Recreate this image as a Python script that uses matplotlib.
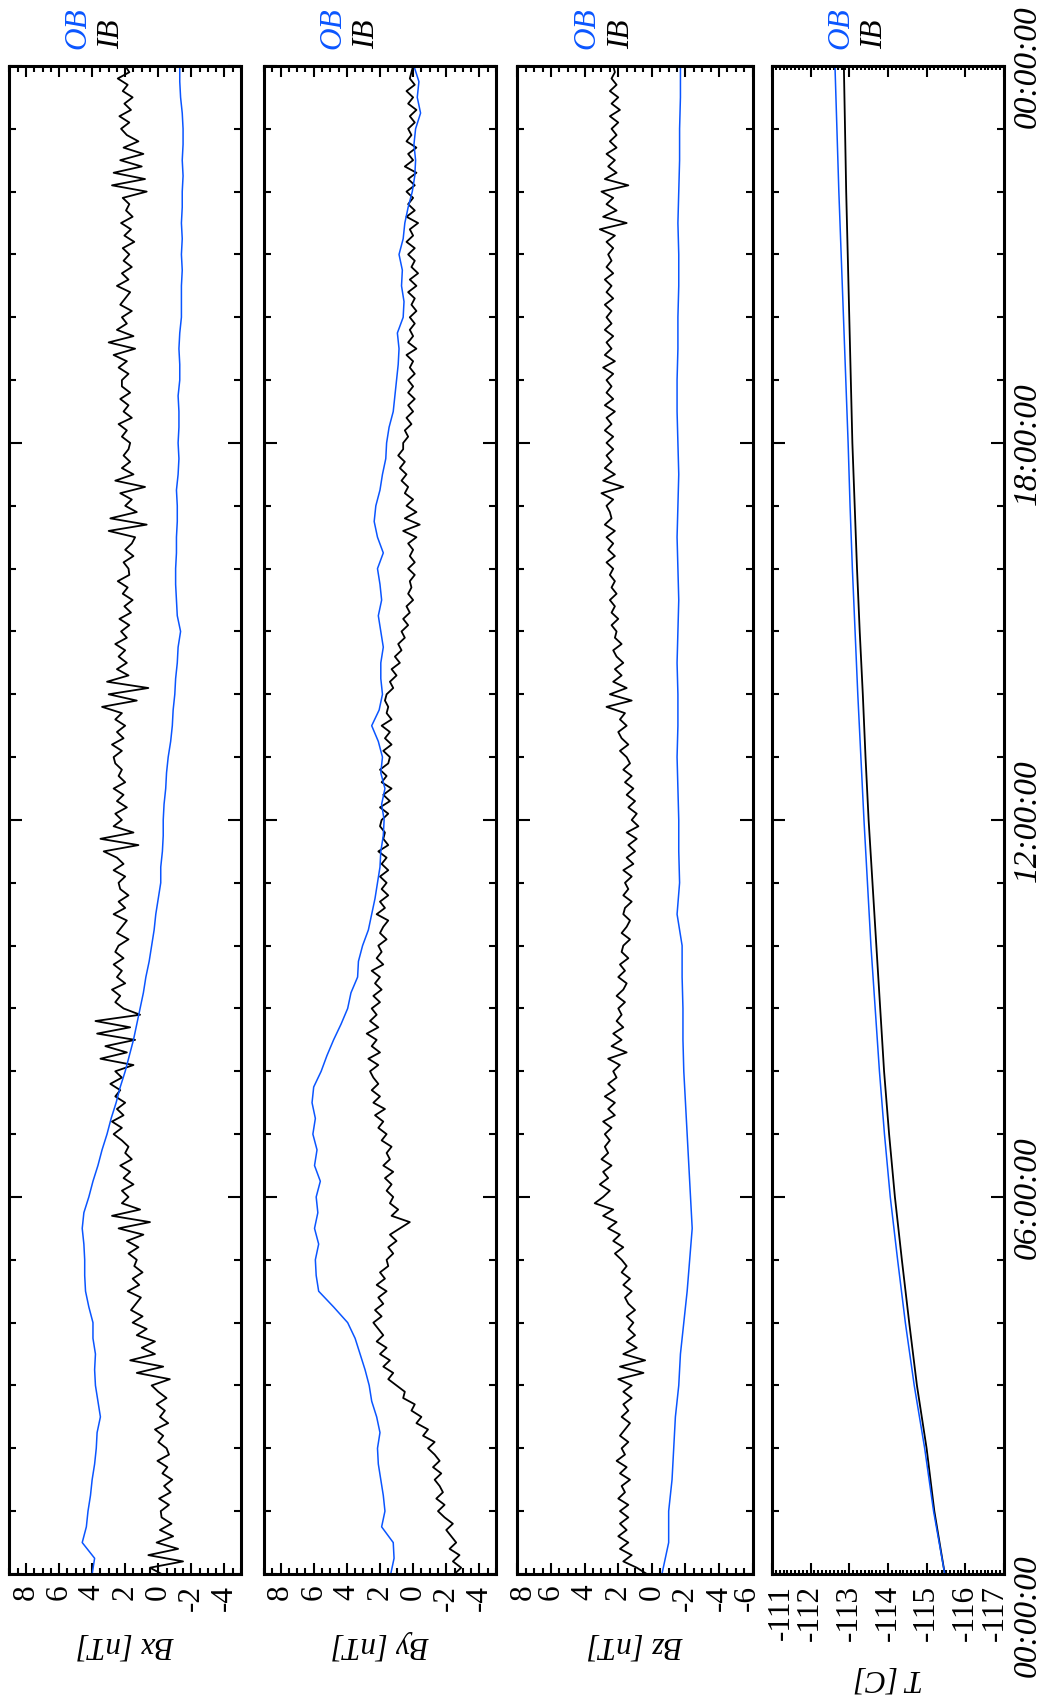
import matplotlib.pyplot as plt
from matplotlib.ticker import MultipleLocator
from matplotlib.transforms import ScaledTranslation
import numpy as np

plt.rcParams['font.family'] = ['Liberation Serif', 'DejaVu Serif']

# ---- data (hours since 00:00:00) ----
# IB (black), sampled every 0.1 h, one row per hour
ib_bx = [
    -0.2, 0.5, -1.5, 0.6, -1.2, 0.1, -0.9, -0.1, -0.8, -0.2,
    -0.15, -0.65, -0.05, -0.75, -0.35, -0.85, -0.25, -0.55, 0.05, -0.65,
    -0.5, 0.0, -0.3, 0.2, -0.6, -0.1, -0.4, 0.1, -0.5, 0.0,
    0.4, -0.7, 1.3, -0.3, 1.7, 0.2, 1.0, 0.2, 1.3, 0.7,
    1.55, 0.95, 1.65, 1.35, 1.05, 1.85, 1.15, 1.55, 0.95, 1.45,
    1.3, 1.8, 1.2, 1.9, 0.9, 2.4, 0.5, 2.8, 1.1, 2.2,
    1.8, 2.2, 1.5, 2.1, 1.7, 2.3, 1.6, 2.0, 1.8, 2.2,
    2.7, 2.2, 2.8, 2.1, 2.5, 2.0, 2.6, 2.3, 2.9, 2.2,
    2.6, 1.5, 3.5, 1.9, 3.2, 1.4, 3.7, 1.7, 3.8, 1.1,
    2.1, 2.6, 2.3, 2.8, 2.0, 2.5, 2.2, 2.7, 2.1, 2.6,
    2.4, 1.8, 2.5, 2.2, 1.9, 2.7, 2.0, 2.4, 1.8, 2.3,
    2.4, 2.0, 2.7, 2.1, 2.5, 3.3, 1.2, 3.5, 1.5, 2.7,
    2.2, 2.6, 1.9, 2.5, 2.1, 2.7, 2.0, 2.4, 2.2, 2.6,
    2.7, 2.2, 2.8, 2.1, 2.5, 2.0, 2.6, 2.2, 3.4, 1.3,
    3.0, 0.6, 3.1, 1.8, 2.5, 1.9, 2.4, 2.0, 2.6, 1.9,
    2.25, 1.75, 2.35, 1.65, 2.05, 1.55, 2.15, 1.85, 2.45, 1.75,
    1.8, 2.1, 1.5, 2.0, 1.6, 1.4, 3.0, 0.7, 2.9, 1.3,
    2.0, 1.6, 2.3, 0.8, 2.6, 1.5, 2.2, 1.7, 2.1, 1.8,
    1.7, 2.2, 1.9, 2.4, 1.6, 2.1, 1.8, 2.3, 1.7, 2.2,
    2.2, 1.8, 2.4, 1.9, 2.7, 1.4, 3.0, 1.5, 2.5, 1.9,
    2.2, 1.6, 2.3, 2.0, 1.7, 2.5, 1.8, 2.2, 1.6, 2.1,
    1.75, 2.15, 1.45, 2.05, 1.65, 2.25, 1.55, 1.95, 1.75, 2.15,
    0.7, 2.8, 0.8, 2.7, 1.0, 2.3, 0.9, 2.1, 1.2, 1.9,
    2.25, 1.75, 2.35, 1.65, 2.05, 1.55, 2.15, 1.85, 2.45, 1.75,
    2.0]

ib_by = [
    -2.5, -2.9, -2.4, -2.8, -2.2, -2.6, -2.3, -2.0, -2.4, -1.9,
    -1.5, -1.9, -1.4, -1.8, -1.6, -1.3, -1.7, -1.2, -1.6, -1.3,
    -0.9, -1.3, -0.6, -0.9, -0.2, -0.5, 0.1, -0.1, 0.6, 0.5,
    1.0, 1.5, 1.2, 1.8, 1.4, 2.0, 1.6, 2.2, 1.8, 2.1,
    2.4, 1.9, 2.3, 1.8, 2.1, 1.6, 2.2, 1.7, 2.0, 1.5,
    1.6, 1.2, 1.5, 1.0, 1.4, 0.8, 0.2, 1.3, 0.9, 1.4,
    1.2, 1.6, 1.3, 1.7, 1.2, 1.8, 1.4, 1.6, 1.3, 1.9,
    1.6, 2.1, 1.8, 2.3, 1.7, 2.4, 2.0, 2.5, 2.1, 2.4,
    2.6, 2.1, 2.7, 2.0, 2.5, 2.2, 2.8, 2.1, 2.6, 2.2,
    2.5, 2.0, 2.4, 1.9, 2.3, 2.0, 2.5, 1.8, 2.2, 1.9,
    2.1, 1.6, 2.0, 1.8, 1.5, 2.2, 1.7, 2.0, 1.5, 1.9,
    1.6, 2.0, 1.5, 1.9, 1.6, 2.1, 1.5, 1.8, 1.7, 2.0,
    1.9, 1.5, 2.0, 1.4, 1.8, 1.3, 1.9, 1.6, 2.0, 1.5,
    1.4, 1.8, 1.3, 1.7, 1.4, 1.9, 1.3, 1.6, 1.5, 1.7,
    1.6, 1.2, 1.4, 1.0, 1.3, 0.8, 1.1, 0.7, 0.9, 0.5,
    0.7, 0.3, 0.6, 0.2, 0.4, 0.0, 0.3, 0.1, 0.2, -0.1,
    0.3, -0.1, 0.2, 0.0, 0.3, -0.2, 0.6, -0.4, 0.5, -0.2,
    0.4, 0.0, 0.5, 0.3, 0.7, 0.4, 0.8, 0.5, 0.9, 0.6,
    0.6, 0.3, 0.5, 0.1, 0.4, 0.0, 0.3, -0.1, 0.3, 0.0,
    0.3, -0.1, 0.2, 0.0, 0.4, -0.2, 0.3, 0.0, 0.2, -0.1,
    0.2, -0.2, 0.1, -0.1, 0.3, -0.2, 0.2, -0.3, 0.1, -0.1,
    0.3, -0.1, 0.4, 0.0, 0.2, -0.3, 0.4, -0.1, 0.3, 0.0,
    0.4, -0.1, 0.3, -0.2, 0.5, 0.0, 0.3, -0.2, 0.4, 0.1,
    0.3, -0.1, 0.2, -0.2, 0.3, 0.0, 0.4, -0.1, 0.2, 0.1,
    0.0]

ib_bz = [
    0.3, 0.9, 1.7, 1.2, 1.9, 1.4, 2.0, 1.5, 1.9, 1.4,
    1.9, 1.4, 2.0, 1.6, 1.8, 1.3, 1.9, 1.5, 2.1, 1.6,
    1.8, 1.4, 1.9, 1.6, 1.3, 1.8, 1.4, 1.7, 1.2, 1.7,
    1.2, 2.0, 0.5, 1.9, 0.4, 1.7, 0.9, 1.5, 1.0, 1.4,
    1.1, 1.5, 1.0, 1.4, 1.6, 1.2, 1.7, 1.3, 1.8, 1.5,
    1.8, 2.2, 1.7, 2.3, 1.9, 2.6, 2.1, 2.9, 2.3, 3.4,
    2.9, 2.5, 3.1, 2.6, 2.9, 2.4, 3.0, 2.6, 2.8, 2.5,
    2.8, 2.4, 2.9, 2.2, 2.6, 2.2, 2.8, 2.2, 2.6, 2.1,
    2.3, 1.9, 2.6, 1.5, 2.4, 1.8, 2.3, 1.7, 2.1, 1.8,
    2.0, 1.6, 2.1, 1.7, 1.5, 2.0, 1.6, 1.9, 1.4, 1.8,
    1.7, 1.3, 1.8, 1.5, 1.3, 1.7, 1.6, 1.2, 1.7, 1.4,
    1.6, 1.2, 1.7, 1.1, 1.5, 1.0, 1.4, 0.9, 1.5, 0.8,
    1.2, 0.9, 1.4, 1.0, 1.5, 1.1, 1.6, 1.2, 1.7, 1.3,
    1.5, 1.9, 1.4, 1.8, 2.0, 1.5, 1.9, 1.6, 2.7, 1.2,
    2.5, 1.5, 2.3, 1.8, 2.2, 1.7, 2.1, 2.3, 1.8, 2.2,
    2.1, 2.4, 2.0, 2.4, 2.2, 2.5, 2.1, 2.4, 2.2, 2.5,
    2.3, 2.7, 2.2, 2.6, 2.3, 2.7, 2.2, 2.8, 2.4, 2.5,
    2.7, 2.3, 3.0, 1.7, 2.9, 2.2, 2.8, 2.4, 2.7, 2.3,
    2.7, 2.3, 2.8, 2.4, 2.7, 2.2, 2.8, 2.3, 2.7, 2.4,
    2.7, 2.3, 2.9, 2.2, 2.8, 2.4, 2.7, 2.3, 2.8, 2.4,
    2.7, 2.4, 2.8, 2.3, 2.7, 2.4, 2.8, 2.3, 2.7, 2.4,
    2.6, 2.3, 2.7, 2.2, 3.1, 1.5, 2.9, 2.1, 2.7, 2.3,
    3.0, 1.4, 2.8, 2.1, 2.6, 2.2, 2.7, 2.1, 2.5, 2.1,
    2.4, 2.0, 2.5, 1.9, 2.4, 2.0, 2.5, 2.1, 2.4, 2.2,
    2.3]

# OB (blue), sampled every 0.25 h, one row per 2 hours
ob_bx = [
    4.0, 3.85, 4.6, 4.35, 4.25, 4.1, 4.0, 3.85,
    3.75, 3.7, 3.5, 3.65, 3.8, 3.85, 3.8, 3.95,
    3.95, 4.2, 4.4, 4.45, 4.45, 4.5, 4.6, 4.5,
    4.2, 3.95, 3.65, 3.4, 3.1, 2.85, 2.55, 2.3,
    2.0, 1.75, 1.5, 1.3, 1.1, 0.9, 0.75, 0.55,
    0.4, 0.25, 0.15, 0.0, -0.15, -0.15, -0.25, -0.3,
    -0.3, -0.35, -0.45, -0.5, -0.6, -0.75, -0.85, -0.9,
    -1.0, -1.05, -1.15, -1.2, -1.35, -1.15, -1.1, -1.05,
    -1.05, -1.1, -1.1, -1.15, -1.15, -1.1, -1.2, -1.25,
    -1.2, -1.25, -1.25, -1.2, -1.3, -1.3, -1.25, -1.3,
    -1.4, -1.4, -1.4, -1.45, -1.4, -1.45, -1.4, -1.45,
    -1.45, -1.5, -1.45, -1.5, -1.5, -1.45, -1.35, -1.3,
    -1.3]

ob_by = [
    1.35, 1.15, 1.2, 1.9, 1.7, 1.8, 1.95, 2.1,
    2.15, 2.0, 2.2, 2.5, 2.65, 2.9, 3.2, 3.5,
    3.95, 4.8, 5.7, 5.85, 5.9, 5.7, 5.95, 5.75,
    5.85, 5.6, 5.95, 5.8, 6.05, 5.9, 6.1, 6.0,
    5.55, 5.2, 4.8, 4.35, 3.95, 3.75, 3.35, 3.3,
    3.05, 2.7, 2.5, 2.3, 2.15, 2.0, 1.95, 1.8,
    1.75, 1.9, 1.7, 1.95, 1.85, 2.1, 2.5, 2.05,
    1.85, 1.95, 1.95, 1.8, 1.95, 2.1, 1.9, 2.0,
    2.15, 1.8, 2.15, 2.35, 2.25, 2.0, 1.85, 1.65,
    1.6, 1.45, 1.2, 1.1, 1.0, 0.9, 0.85, 0.95,
    0.6, 0.55, 0.7, 0.65, 0.85, 0.6, 0.5, 0.3,
    0.05, -0.1, -0.15, -0.05, -0.15, -0.45, -0.25, -0.35,
    -0.05]

# OB Bz, every 0.5 h
ob_bz = [
    -0.6, -1.0, -1.0, -1.2, -1.3, -1.4, -1.6, -1.7,
    -1.9, -2.1, -2.25, -2.4, -2.3, -2.2, -2.1, -2.0,
    -1.9, -1.85, -1.85, -1.8, -1.8, -1.5, -1.65, -1.6,
    -1.6, -1.55, -1.5, -1.55, -1.55, -1.5, -1.55, -1.6,
    -1.55, -1.5, -1.55, -1.6, -1.55, -1.5, -1.5, -1.55,
    -1.55, -1.6, -1.6, -1.55, -1.6, -1.65, -1.65, -1.7,
    -1.7]

# Temperature [C], hourly
temp_ib = [-115.47, -115.2, -115.0, -114.75, -114.55, -114.36, -114.18,
           -114.03, -113.9, -113.8, -113.7, -113.6, -113.5, -113.42,
           -113.35, -113.27, -113.2, -113.14, -113.08, -113.04, -113.0,
           -112.96, -112.92, -112.89, -112.86]
temp_ob = [-115.47, -115.18, -114.95, -114.68, -114.45, -114.25, -114.06,
           -113.91, -113.78, -113.67, -113.56, -113.47, -113.38, -113.3,
           -113.22, -113.15, -113.08, -113.02, -112.97, -112.91, -112.85,
           -112.79, -112.73, -112.68, -112.63]

t_ib = np.arange(len(ib_bx)) * 0.1
t_ob = np.arange(len(ob_bx)) * 0.25
t_obz = np.arange(len(ob_bz)) * 0.5
t_temp = np.arange(len(temp_ib))

time_ticks = [0, 6, 12, 18, 24]
time_labels = ['00:00:00', '06:00:00', '12:00:00', '18:00:00', '00:00:00']

BLUE = '#0a55ff'
FS = 22.5

fig = plt.figure(figsize=(10.53, 16.99), dpi=100)
bottom, height = 0.073, 0.8876
lefts = [0.009, 0.2507, 0.4914, 0.7331]
widths = [0.2198, 0.2203, 0.2234, 0.2203]
axes = [fig.add_axes([l, bottom, w, height]) for l, w in zip(lefts, widths)]

panels = [
    (ib_bx, ob_bx, t_ob, (9, -5), [8, 6, 4, 2, 0, -2, -4], 'Bx [nT]'),
    (ib_by, ob_by, t_ob, (9, -5), [8, 6, 4, 2, 0, -2, -4], 'By [nT]'),
    (ib_bz, ob_bz, t_obz, (8, -6), [8, 6, 4, 2, 0, -2, -4, -6], 'Bz [nT]'),
]

for ax, (ib, ob, tob, xl, xt, lab) in zip(axes[:3], panels):
    ax.plot(ib, t_ib, color='black', lw=1.3)
    ax.plot(ob, tob, color=BLUE, lw=1.1)
    ax.set_xlim(*xl)
    ax.set_xticks(xt, [str(v) for v in xt], rotation=90)
    ax.xaxis.set_minor_locator(MultipleLocator(0.5))
    ax.set_xlabel(lab, rotation=180, fontstyle='italic', fontsize=FS, labelpad=14)

ax4 = axes[3]
ax4.plot(temp_ib, t_temp, color='black', lw=1.3)
ax4.plot(temp_ob, t_temp, color=BLUE, lw=1.1)
ax4.set_xlim(-111, -117)
tt = [-111, -112, -113, -114, -115, -116, -117]
ax4.set_xticks(tt, [str(v) for v in tt], rotation=90)
ax4.xaxis.set_minor_locator(MultipleLocator(0.1))
ax4.set_xlabel('T [C]', rotation=180, fontstyle='italic', fontsize=FS, labelpad=16)

for ax in axes:
    ax.set_ylim(0, 24)
    ax.yaxis.set_major_locator(MultipleLocator(6))
    ax.yaxis.set_minor_locator(MultipleLocator(1))
    for s in ax.spines.values():
        s.set_linewidth(2.2)
    ax.tick_params(which='both', direction='in', top=True, bottom=True,
                   left=True, right=True, width=1.5, labelsize=FS,
                   labelleft=False)
    ax.tick_params(axis='y', which='major', length=9.5)
    ax.tick_params(axis='y', which='minor', length=5)
    ax.tick_params(axis='x', which='major', length=8, pad=7)
    ax.tick_params(axis='x', which='minor', length=4.5)
    ax.text(0.296, 1.012, 'OB', color=BLUE, fontstyle='italic', fontsize=FS,
            rotation=90, ha='center', va='bottom', transform=ax.transAxes)
    ax.text(0.443, 1.012, 'IB', color='black', fontstyle='italic', fontsize=FS,
            rotation=90, ha='center', va='bottom', transform=ax.transAxes)

ax4.tick_params(axis='x', which='minor', length=3)
ax4.set_yticks(time_ticks, time_labels)
ax4.tick_params(axis='y', labelright=True, pad=6)
for i, tk in enumerate(ax4.yaxis.get_major_ticks()):
    lb = tk.label2
    lb.set_rotation(90)
    lb.set_fontstyle('italic')
    lb.set_fontsize(24)
    lb.set_va('center')
    if i == 0:
        # first time label hangs below the frame
        lb.set_transform(lb.get_transform() +
                         ScaledTranslation(0, -29 / 72, fig.dpi_scale_trans))

# edge tick labels sit just inside the frame
def nudge(ax, idx, dx):
    lb = ax.xaxis.get_major_ticks()[idx].label1
    lb.set_transform(lb.get_transform() + ScaledTranslation(dx / 72, 0, fig.dpi_scale_trans))

nudge(axes[2], 0, 4)
nudge(axes[2], -1, -4)
nudge(ax4, 0, 7)
nudge(ax4, -1, -6)

fig.savefig('out.png', dpi=100, facecolor='white')
